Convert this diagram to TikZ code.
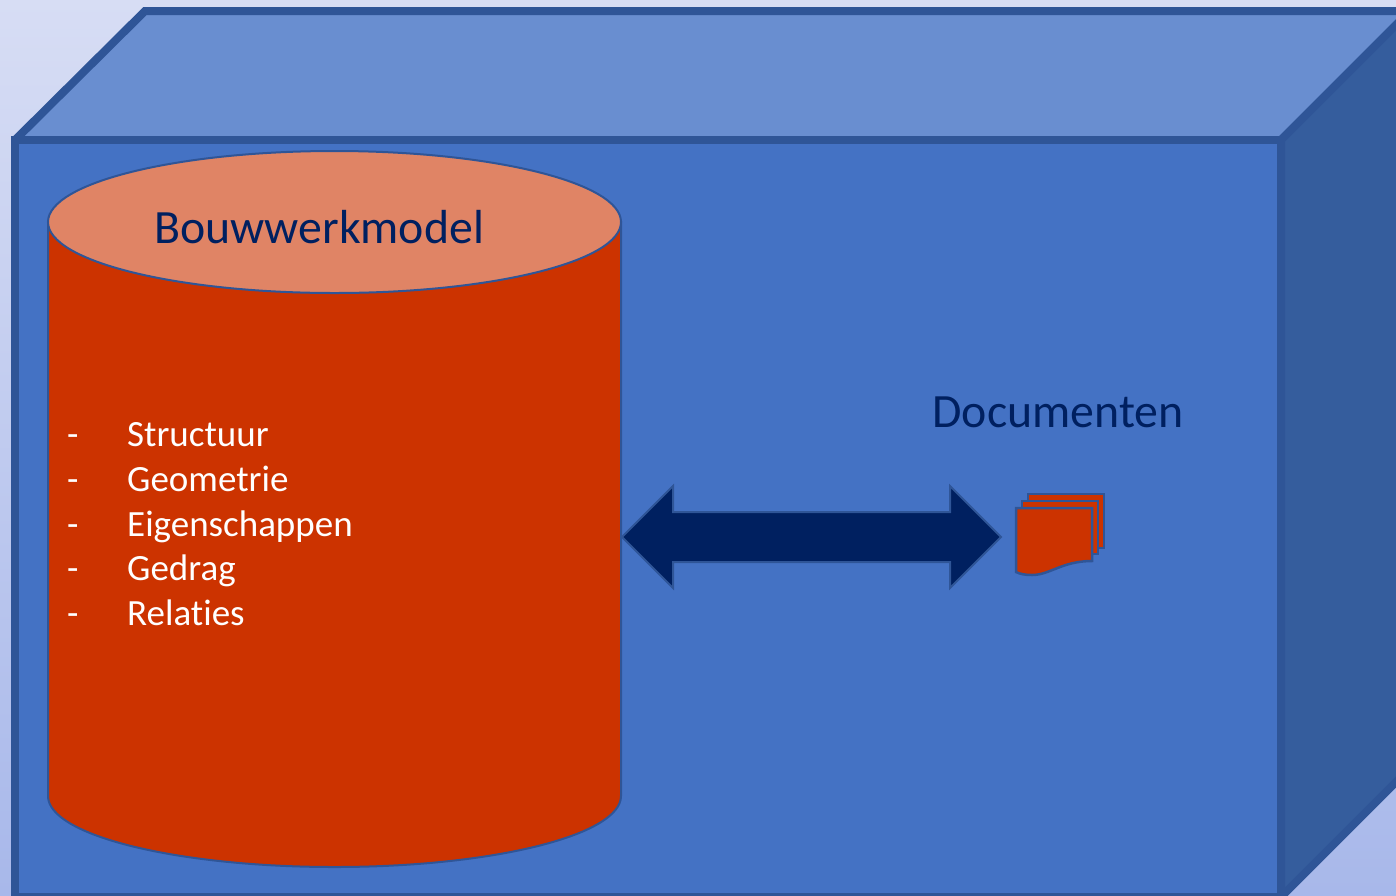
\documentclass[tikz,border=0pt]{standalone}
\usepackage{fontspec}
\setmainfont{Carlito}[Ligatures=CommonOff]
\definecolor{bgA}{HTML}{D7DDF4}
\definecolor{bgB}{HTML}{A8B8EA}
\definecolor{frontC}{HTML}{4472C4}
\definecolor{topC}{HTML}{698ED0}
\definecolor{sideC}{HTML}{355D9D}
\definecolor{edgeC}{HTML}{2F5597}
\definecolor{redC}{HTML}{CC3300}
\definecolor{capC}{HTML}{E08465}
\definecolor{navyC}{HTML}{002060}
\tikzset{
  cubeface/.style={draw=edgeC,line width=8pt,line join=miter,miter limit=2},
  thin edge/.style={draw=edgeC,line width=2pt,line join=miter},
  heading/.style={text=navyC,font=\fontsize{47.8}{48}\selectfont,anchor=base,inner sep=0pt},
  listitem/.style={text=white,font=\fontsize{37}{37}\selectfont,anchor=base west,inner sep=0pt},
}
\begin{document}
\begin{tikzpicture}[x=1pt,y=-1pt]
\useasboundingbox (0,0) rectangle (1396,895);
\begin{scope}
\clip (0,0) rectangle (1396,895);
\shade[shading=axis,bottom color=bgB,top color=bgA,shading angle=0] (0,0) rectangle (1396,895);
\path[cubeface,fill=topC] (15,140) -- (145,11) -- (1410,11) -- (1281,140) -- cycle;
\path[cubeface,fill=sideC] (1281,140) -- (1410,11) -- (1410,768) -- (1281,897) -- cycle;
\path[cubeface,fill=frontC] (15,140) rectangle (1281,897);
\end{scope}
% cylinder
\path[thin edge,fill=redC] (48,222) -- (48,796) arc[x radius=286.5,y radius=71,start angle=180,end angle=0] -- (621,222) -- cycle;
\path[thin edge,fill=capC] (334.5,222) ellipse[x radius=286.5,y radius=71];
% arrow
\path[thin edge,fill=navyC] (622,537) -- (673,486) -- (673,512) -- (950,512) -- (950,486) -- (1001,537) -- (950,588) -- (950,562) -- (673,562) -- (673,588) -- cycle;
% documents
\path[thin edge,line width=2.5pt,fill=redC] (1028,494) -- (1104,494) -- (1104,548) -- (1028,548) -- cycle;
\path[thin edge,line width=2.5pt,fill=redC] (1022,501) -- (1098,501) -- (1098,554) -- (1022,554) -- cycle;
\path[thin edge,line width=2.5pt,fill=redC] (1016,508) -- (1092,508) -- (1092,561) .. controls (1062,561) and (1050,575) .. (1032,575) .. controls (1025,575) and (1020,574) .. (1016,572) -- cycle;
% text
\node[heading] (title) at (319,243) {Bouwwerkmodel};
\node[heading] (docs) at (1058,427) {Documenten};
\node[listitem] (d1) at (67,446.5) {-};
\node[listitem] (t1) at (127,446.5) {Structuur};
\node[listitem] (d2) at (67,491.5) {-};
\node[listitem] (t2) at (127,491.5) {Geometrie};
\node[listitem] (d3) at (67,536.5) {-};
\node[listitem] (t3) at (127,536.5) {Eigenschappen};
\node[listitem] (d4) at (67,580.5) {-};
\node[listitem] (t4) at (127,580.5) {Gedrag};
\node[listitem] (d5) at (67,625.5) {-};
\node[listitem] (t5) at (127,625.5) {Relaties};
\end{tikzpicture}
\end{document}
